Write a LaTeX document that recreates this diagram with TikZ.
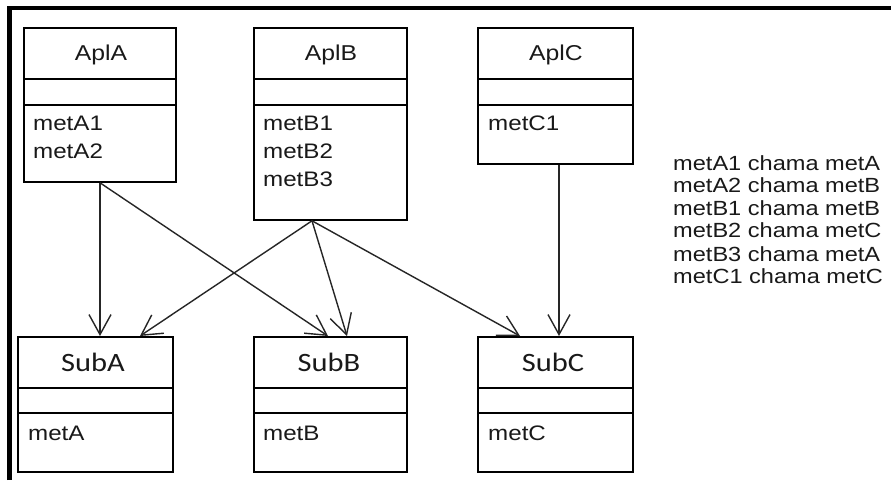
\documentclass[tikz,border=0pt]{standalone}
\usepackage{fontspec}
\setmainfont{Liberation Sans}
\newfontfamily\arialS[FakeStretch=1.15]{Liberation Sans}
\newfontfamily\caliS[FakeStretch=1.15]{Carlito}
\usetikzlibrary{arrows.meta,calc}
\begin{document}
\begin{tikzpicture}[x=1pt,y=-1pt,
  umlbox/.style={draw=black, line width=1.8pt, anchor=north west, inner sep=0pt, fill=white},
  divider/.style={draw=black, line width=1.8pt},
  ttl/.style={anchor=base, inner sep=0pt, font=\arialS\fontsize{21.5}{26}\selectfont, text=black!90},
  subttl/.style={anchor=base, inner sep=0pt, font=\caliS\fontsize{26.5}{30}\selectfont, text=black!90},
  meth/.style={anchor=base west, inner sep=0pt, font=\arialS\fontsize{21}{28}\selectfont, text=black!90},
  legend/.style={anchor=base west, inner sep=0pt, font=\arialS\fontsize{20.5}{22}\selectfont, text=black!90},
  call/.style={draw=black!85, line width=1.4pt, -{Straight Barb[length=20pt,width=22pt,line width=1.4pt]}}
]
\useasboundingbox (0,0) rectangle (891,480);
\fill[white] (0,0) rectangle (891,480);
% frame
\draw[line width=4.5pt] (9.5,480) -- (9.5,8) -- (891,8);

% Apl boxes
\node[umlbox, minimum width=152pt, minimum height=154pt] (aplA) at (23,27) {};
\node[umlbox, minimum width=153pt, minimum height=192pt] (aplB) at (253,27) {};
\node[umlbox, minimum width=155pt, minimum height=136pt] (aplC) at (477,27) {};
% Sub boxes
\node[umlbox, minimum width=155pt, minimum height=135pt] (subA) at (17,336) {};
\node[umlbox, minimum width=153pt, minimum height=135pt] (subB) at (253,336) {};
\node[umlbox, minimum width=155pt, minimum height=135pt] (subC) at (477,336) {};

% dividers
\foreach \b in {aplA,aplB,aplC}{
  \draw[divider] ([yshift=-52pt]\b.north west) -- ([yshift=-52pt]\b.north east);
  \draw[divider] ([yshift=-78pt]\b.north west) -- ([yshift=-78pt]\b.north east);
}
\foreach \b in {subA,subB,subC}{
  \draw[divider] ([yshift=-52pt]\b.north west) -- ([yshift=-52pt]\b.north east);
  \draw[divider] ([yshift=-77pt]\b.north west) -- ([yshift=-77pt]\b.north east);
}

% titles
\node[ttl] (tA) at (101,60) {AplA};
\node[ttl] (tB) at (331,60) {AplB};
\node[ttl] (tC) at (556,60) {AplC};
\node[subttl] (tsA) at (93,371) {SubA};
\node[subttl] (tsB) at (329,371) {SubB};
\node[subttl] (tsC) at (553,371) {SubC};

% methods
\node[meth] (mA1) at (33,130) {metA1};
\node[meth] (mA2) at (33,158) {metA2};
\node[meth] (mB1) at (263,130) {metB1};
\node[meth] (mB2) at (263,158) {metB2};
\node[meth] (mB3) at (263,186) {metB3};
\node[meth] (mC1) at (488,130) {metC1};
\node[meth] (mA) at (28,440) {metA};
\node[meth] (mB) at (263,440) {metB};
\node[meth] (mC) at (488,440) {metC};

% legend
\node[legend] (l1) at (673,170) {metA1 chama metA};
\node[legend] (l2) at (673,192.5) {metA2 chama metB};
\node[legend] (l3) at (673,215) {metB1 chama metB};
\node[legend] (l4) at (673,237) {metB2 chama metC};
\node[legend] (l5) at (673,261) {metB3 chama metA};
\node[legend] (l6) at (673,283) {metC1 chama metC};

% connectors
\coordinate (oA) at ([xshift=77pt]aplA.south west);
\coordinate (oB) at ([xshift=59pt]aplB.south west);
\coordinate (oC) at ([xshift=82pt]aplC.south west);
\draw[call] (oA) -- (oA |- subA.north);
\draw[call] (oA) -- ([xshift=75pt]subB.north west);
\draw[call] (oB) -- ([xshift=123pt]subA.north west);
\draw[call] (oB) -- ([xshift=94pt]subB.north west);
\draw[call] (oB) -- ([xshift=43pt]subC.north west);
\draw[call] (oC) -- (oC |- subC.north);
\end{tikzpicture}
\end{document}
